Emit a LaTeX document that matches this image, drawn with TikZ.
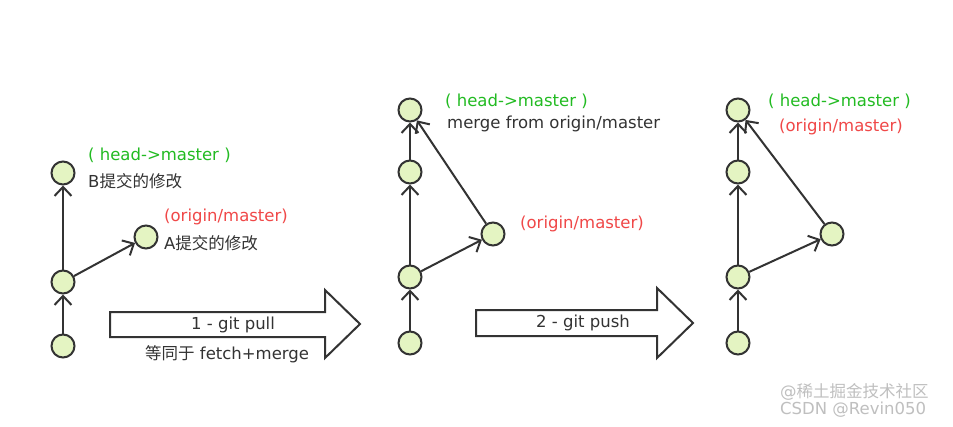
\documentclass[tikz,border=0pt]{standalone}
\usepackage{fontspec}
\setmainfont{DejaVu Sans}
\newfontfamily\cjk{Noto Sans CJK SC}
\usetikzlibrary{arrows.meta,shapes.arrows}
\definecolor{cfill}{HTML}{E4F4C2}
\definecolor{cline}{HTML}{333333}
\definecolor{cgreen}{HTML}{22BB22}
\definecolor{cred}{HTML}{F04848}
\begin{document}
\begin{tikzpicture}[x=1pt,y=-1pt,
  c/.style={circle,draw=cline,fill=cfill,line width=2pt,minimum size=23pt,inner sep=0pt},
  e/.style={draw=cline,line width=2pt,-{Straight Barb[length=9pt,width=17pt,line width=2pt]}},
  t/.style={anchor=west,font=\fontsize{16.5}{19}\selectfont,text=cline,inner sep=0pt},
  g/.style={t,text=cgreen},
  r/.style={t,text=cred},
  big/.style={draw=cline,line width=2pt,fill=white}]
\useasboundingbox[fill=white] (0,0) rectangle (953,426);
% left
\node[c] (l1) at (63,346) {};
\node[c] (l2) at (63,282) {};
\node[c] (l3) at (63,173) {};
\node[c] (la) at (146,237) {};
\draw[e] (l1) -- (l2);
\draw[e] (l2) -- (l3);
\draw[e] (l2) -- (la);
\node[g] (lh) at (88,155) {( head->master )};
\node[t] (lb) at (88,181) {B{\cjk 提交的修改}};
\node[r] (lo) at (164,217) {(origin/master)};
\node[t] (lat) at (164,243) {A{\cjk 提交的修改}};
% arrow 1
\draw[big] (110,312) -- (325,312) -- (325,290) -- (360,324) -- (325,358) -- (325,337) -- (110,337) -- cycle;
\node[t,anchor=center] (p1) at (233,325) {1 - git pull};
\node[t] (p1b) at (145,354) {{\cjk 等同于} fetch+merge};
% middle
\node[c] (m1) at (410,343) {};
\node[c] (m2) at (410,277) {};
\node[c] (m3) at (410,172) {};
\node[c] (m4) at (410,110) {};
\node[c] (ma) at (493,234) {};
\draw[e] (m1) -- (m2);
\draw[e] (m2) -- (m3);
\draw[e] (m3) -- (m4);
\draw[e] (m2) -- (ma);
\draw[e] (ma) -- (m4);
\node[g] (mh) at (445,101) {( head->master )};
\node[t] (mm) at (447,124) {merge from origin/master};
\node[r] (mo) at (520,224) {(origin/master)};
% arrow 2
\draw[big] (476,310) -- (657,310) -- (657,288) -- (693,323) -- (657,358) -- (657,336) -- (476,336) -- cycle;
\node[t,anchor=center] (p2) at (583,323) {2 - git push};
% right
\node[c] (r1) at (738,343) {};
\node[c] (r2) at (738,277) {};
\node[c] (r3) at (738,172) {};
\node[c] (r4) at (738,110) {};
\node[c] (ra) at (832,234) {};
\draw[e] (r1) -- (r2);
\draw[e] (r2) -- (r3);
\draw[e] (r3) -- (r4);
\draw[e] (r2) -- (ra);
\draw[e] (ra) -- (r4);
\node[g] (rh) at (768,101) {( head->master )};
\node[r] (ro) at (779,127) {(origin/master)};
% watermark
\node[t,text=black!25] (w1) at (780,392) {@{\cjk 稀土掘金技术社区}};
\node[t,text=black!25] (w2) at (780,410) {CSDN @Revin050};
\end{tikzpicture}
\end{document}
